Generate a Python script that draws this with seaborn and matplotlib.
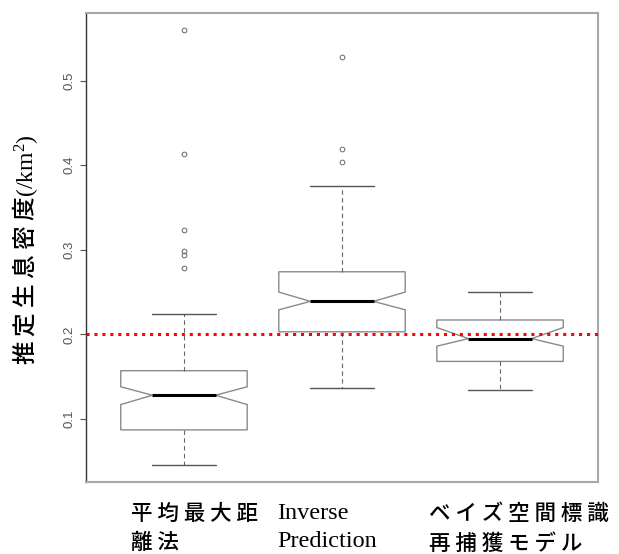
import numpy as np
import matplotlib
matplotlib.use("Agg")
import matplotlib.pyplot as plt
import matplotlib.transforms as mtransforms
import seaborn as sns

# ----------------------------------------------------
# data (density estimates per method)
# ----------------------------------------------------
methods = ["平 均 最 大 距\n離 法", "Inverse\nPrediction", "ベ イ ズ 空 間 標 識\n再 捕 獲 モ デ ル"]
whislo = [0.046, 0.136, 0.134]
q1 = [0.087, 0.203, 0.168]
med = [0.128, 0.239, 0.195]
q3 = [0.157, 0.274, 0.217]
whishi = [0.224, 0.376, 0.250]
ci_lo = [0.117, 0.229, 0.186]
ci_hi = [0.138, 0.250, 0.208]
fliers = [
    [0.560, 0.413, 0.323, 0.299, 0.294, 0.278],
    [0.528, 0.419, 0.404],
    [],
]
true_density = 0.2
yticks = [0.1, 0.2, 0.3, 0.4, 0.5]

sns.set_theme(style="white")
plt.rcParams["font.family"] = ["Noto Sans CJK JP", "DejaVu Sans"]
plt.rcParams["mathtext.fontset"] = "custom"
plt.rcParams["mathtext.rm"] = "Liberation Serif"
plt.rcParams["mathtext.it"] = "Liberation Serif:italic"

stats = []
for i in range(len(methods)):
    stats.append(dict(whislo=whislo[i], q1=q1[i], med=med[i], q3=q3[i],
                      whishi=whishi[i], cilo=ci_lo[i], cihi=ci_hi[i],
                      fliers=fliers[i]))

fig = plt.figure(figsize=(6.19, 5.54), dpi=100)
ax = fig.add_axes([86 / 619, 1 - 482 / 554, 512 / 619, 469 / 554])

gray = "#8a8a8a"
ax.bxp(
    stats,
    positions=[1, 2, 3],
    widths=0.8,
    shownotches=True,
    patch_artist=True,
    boxprops=dict(facecolor="white", edgecolor=gray, linewidth=1.0),
    medianprops=dict(color="black", linewidth=2.2, solid_capstyle="butt"),
    whiskerprops=dict(color="#666666", linewidth=0.8, linestyle=(0, (4, 3))),
    capprops=dict(color="#555555", linewidth=1.0),
    flierprops=dict(marker="o", markersize=3.4, markerfacecolor="none",
                    markeredgecolor="#666666", markeredgewidth=0.7),
)

ax.axhline(true_density, color="red", linewidth=2.2,
           linestyle=(0, (1, 1.6)), zorder=5)

ax.set_xlim(0.38, 3.62)
ax.set_ylim(0.0254, 0.580)

# frame: dark left axis, lighter box around
for side in ["top", "right", "bottom"]:
    ax.spines[side].set_color("#a8a8a8")
    ax.spines[side].set_linewidth(1.5)
ax.spines["left"].set_color("#333333")
ax.spines["left"].set_linewidth(1.0)

ax.set_yticks(yticks)
ax.set_yticklabels([f"{t:.1f}" for t in yticks])
ax.tick_params(axis="y", left=True, length=4.3, width=0.8, color="#555555",
               pad=3, labelrotation=90, labelsize=9.5, labelcolor="#555555")
for lbl in ax.get_yticklabels():
    lbl.set_fontfamily("Liberation Sans")
    lbl.set_va("center")

ax.set_xticks([1, 2, 3])
ax.set_xticklabels(methods)
ax.tick_params(axis="x", bottom=False, length=0, pad=15)
shifts = [-38.4, -46.6, -50.9]
for lbl, dx in zip(ax.get_xticklabels(), shifts):
    lbl.set_ha("left")
    lbl.set_color("black")
    lbl.set_transform(lbl.get_transform() +
                      mtransforms.ScaledTranslation(dx / 72, 0, fig.dpi_scale_trans))
    if "Inverse" in lbl.get_text():
        lbl.set_fontfamily("Liberation Serif")
        lbl.set_fontsize(17.5)
        lbl.set_linespacing(1.45)
    else:
        lbl.set_fontsize(15.5)
        lbl.set_fontweight("medium")
        lbl.set_linespacing(1.45)

fig.text(25 / 619, 1 - 250 / 554, "推 定 生 息 密 度$(/\\mathrm{km}^2)$",
         rotation=90, ha="center", va="center", fontsize=17,
         fontfamily="Noto Sans CJK JP", fontweight="medium", color="black")

fig.savefig("out.png", dpi=100)
